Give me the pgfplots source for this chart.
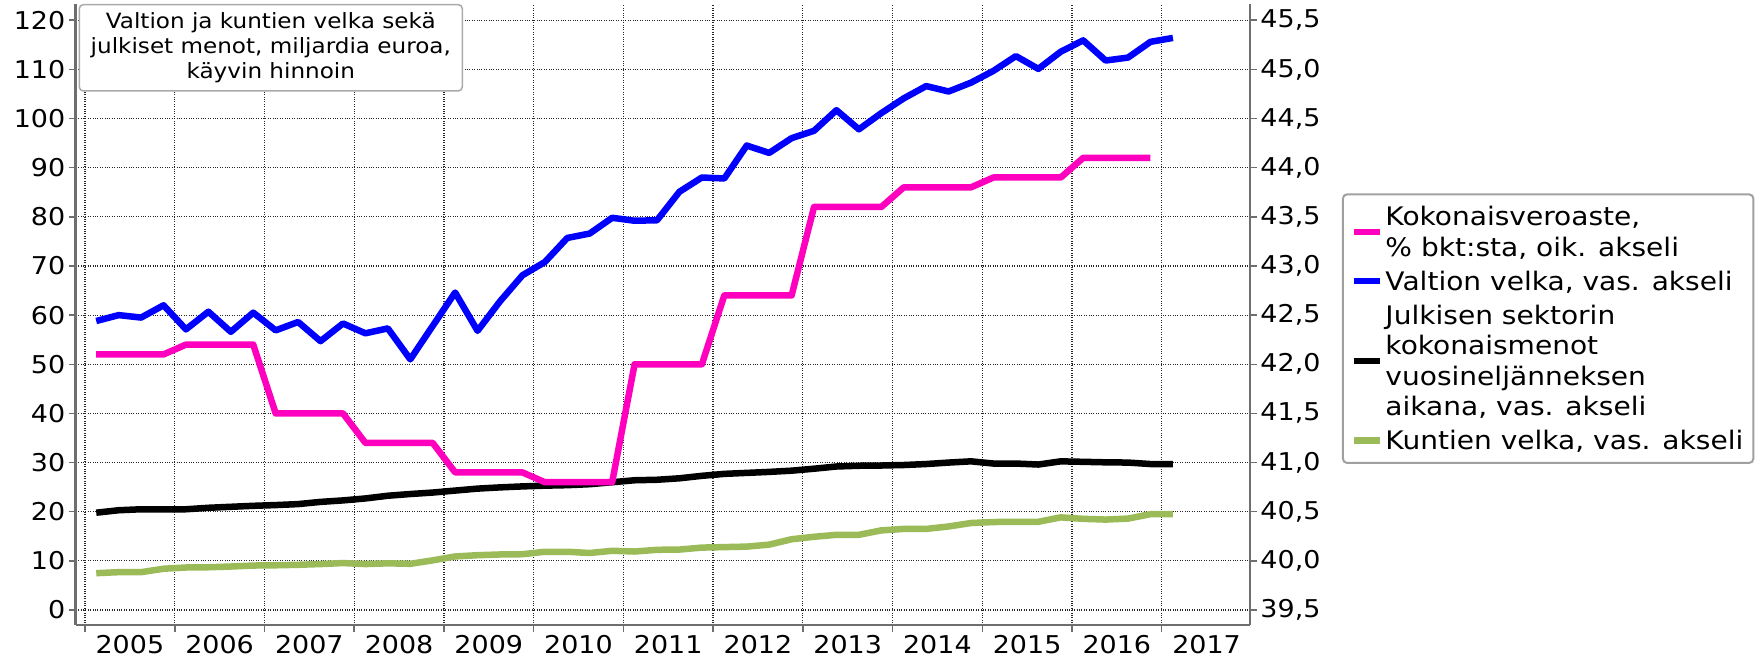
\documentclass[border=0pt]{standalone}
\usepackage{fontspec}
\setmainfont{DejaVu Sans}[FakeStretch=1.1]
\usepackage{pgfplots}
\usepackage{pgfplotstable}
\pgfplotsset{compat=1.18}
\definecolor{pinkc}{RGB}{255,0,190}
\definecolor{bluec}{RGB}{0,0,255}
\definecolor{greenc}{RGB}{155,187,89}
\definecolor{axgray}{RGB}{110,110,110}

\pgfplotstableread{
x blue black green
2005.125 58.8 19.8 7.5
2005.375 60.0 20.3 7.7
2005.625 59.5 20.5 7.7
2005.875 62.0 20.5 8.4
2006.125 57.1 20.5 8.65
2006.375 60.7 20.8 8.7
2006.625 56.6 21.0 8.85
2006.875 60.5 21.2 9.05
2007.125 56.9 21.35 9.1
2007.375 58.6 21.55 9.2
2007.625 54.7 22.0 9.35
2007.875 58.3 22.3 9.55
2008.125 56.3 22.7 9.35
2008.375 57.3 23.25 9.5
2008.625 51.0 23.6 9.4
2008.875 57.8 23.9 10.1
2009.125 64.6 24.3 10.9
2009.375 56.8 24.7 11.15
2009.625 62.8 24.95 11.3
2009.875 68.1 25.15 11.35
2010.125 70.8 25.3 11.85
2010.375 75.7 25.4 11.85
2010.625 76.6 25.6 11.6
2010.875 79.8 26.0 12.05
2011.125 79.2 26.4 11.9
2011.375 79.3 26.5 12.25
2011.625 85.1 26.8 12.3
2011.875 88.0 27.3 12.7
2012.125 87.8 27.7 12.8
2012.375 94.5 27.9 12.9
2012.625 93.0 28.1 13.3
2012.875 96.0 28.35 14.4
2013.125 97.5 28.75 14.9
2013.375 101.7 29.2 15.3
2013.625 97.8 29.35 15.3
2013.875 101.1 29.4 16.2
2014.125 104.1 29.5 16.5
2014.375 106.6 29.7 16.5
2014.625 105.5 30.0 17.0
2014.875 107.3 30.25 17.7
2015.125 109.7 29.8 17.9
2015.375 112.7 29.8 17.95
2015.625 110.1 29.6 17.95
2015.875 113.6 30.25 18.85
2016.125 115.9 30.15 18.55
2016.375 111.8 30.05 18.4
2016.625 112.4 30.0 18.6
2016.875 115.6 29.7 19.5
2017.125 116.4 29.7 19.5
}\quarterly

\pgfplotstableread{
x tax
2005.125 42.1
2005.375 42.1
2005.625 42.1
2005.875 42.1
2006.125 42.2
2006.375 42.2
2006.625 42.2
2006.875 42.2
2007.125 41.5
2007.375 41.5
2007.625 41.5
2007.875 41.5
2008.125 41.2
2008.375 41.2
2008.625 41.2
2008.875 41.2
2009.125 40.9
2009.375 40.9
2009.625 40.9
2009.875 40.9
2010.125 40.8
2010.375 40.8
2010.625 40.8
2010.875 40.8
2011.125 42.0
2011.375 42.0
2011.625 42.0
2011.875 42.0
2012.125 42.7
2012.375 42.7
2012.625 42.7
2012.875 42.7
2013.125 43.6
2013.375 43.6
2013.625 43.6
2013.875 43.6
2014.125 43.8
2014.375 43.8
2014.625 43.8
2014.875 43.8
2015.125 43.9
2015.375 43.9
2015.625 43.9
2015.875 43.9
2016.125 44.1
2016.375 44.1
2016.625 44.1
2016.875 44.1
}\taxrate

\begin{document}
\begin{tikzpicture}
\useasboundingbox (-75.7pt,-32pt) rectangle (1679.3pt,625pt);
\pgfplotsset{
  base/.style={
    scale only axis, width=1174.3pt, height=621pt,
    xmin=2004.896, xmax=2017.984,
    axis line style={axgray, line width=2.5pt},
    tick style={axgray, line width=1.5pt},
    major tick length=7pt, tick align=outside,
    tick label style={font=\fontsize{24.5}{28}\selectfont},
    /pgf/number format/assume math mode=true,
  },
}
\begin{axis}[base,
  ymin=-3.05, ymax=123.3,
  axis x line*=bottom, axis y line*=left,
  xtick={2005,2006,2007,2008,2009,2010,2011,2012,2013,2014,2015,2016,2017},
  xticklabels={2005,2006,2007,2008,2009,2010,2011,2012,2013,2014,2015,2016,2017},
  x tick label style={xshift=44.86pt},
  ytick={0,10,20,30,40,50,60,70,80,90,100,110,120},
  grid=major,
  grid style={black!85, dotted, line width=1.2pt},
]
\addplot[bluec, line width=6.5pt, line join=round] table[x=x, y=blue] {\quarterly};
\addplot[black, line width=6.5pt, line join=round] table[x=x, y=black] {\quarterly};
\addplot[greenc, line width=6.5pt, line join=round] table[x=x, y=green] {\quarterly};
\end{axis}
\begin{axis}[base,
  ymin=39.3475, ymax=45.665,
  axis y line*=right, axis x line=none,
  ytick={39.5,40,40.5,41,41.5,42,42.5,43,43.5,44,44.5,45,45.5},
  yticklabels={{39,5},{40,0},{40,5},{41,0},{41,5},{42,0},{42,5},{43,0},{43,5},{44,0},{44,5},{45,0},{45,5}},
  legend style={at={(1.07834,0.69501)}, anchor=north west,
    draw={rgb,255:red,160;green,160;blue,160}, line width=2pt, rounded corners=4pt,
    font=\fontsize{25.5}{30.5}\selectfont,
    inner xsep=8pt, inner ysep=10pt, row sep=9pt, column sep=0pt,
    cells={anchor=west, align=left}, nodes={inner sep=2pt}},
  legend cell align=left,
  legend image code/.code={\draw[#1, line width=6.5pt, rounded corners=0pt] (0pt,0pt) -- (26pt,0pt);},
]
\addplot[pinkc, line width=6.5pt, line join=round] table[x=x, y=tax] {\taxrate};
\addlegendentry{Kokonaisveroaste,\\\% bkt:sta, oik. akseli}
\addlegendimage{bluec}
\addlegendentry{Valtion velka, vas. akseli}
\addlegendimage{black}
\addlegendentry{Julkisen sektorin\\kokonaismenot\\vuosineljänneksen\\aikana, vas. akseli}
\addlegendimage{greenc}
\addlegendentry{Kuntien velka, vas. akseli}
\end{axis}
\node[draw={rgb,255:red,170;green,170;blue,170}, line width=1.5pt, rounded corners=4pt, fill=white,
  minimum width=383pt, minimum height=86.3pt, inner sep=0pt, align=center,
  font=\fontsize{21}{25.2}\selectfont] at (195.1pt,577.2pt)
  {Valtion ja kuntien velka sekä\\julkiset menot, miljardia euroa,\\käyvin hinnoin};
\end{tikzpicture}
\end{document}
